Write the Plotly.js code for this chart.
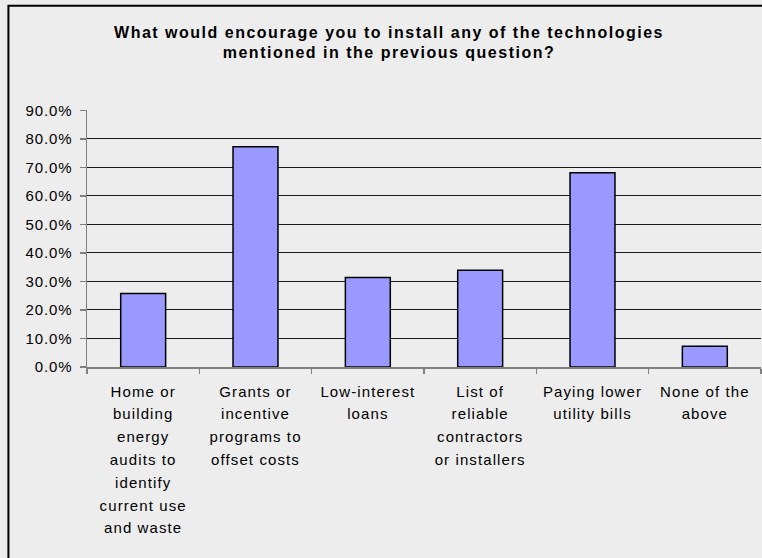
<!DOCTYPE html>
<html>
<head>
<meta charset="utf-8">
<script src="https://cdn.plot.ly/plotly-3.0.1.min.js"></script>
<style>
html,body{margin:0;padding:0;background:#ededed;}
#chart{width:762px;height:558px;}
#chart text.gtitle{letter-spacing:1.5px;}
#chart g.xtick text{letter-spacing:1.1px;}
#chart g.ytick text{letter-spacing:0.9px;}
</style>
</head>
<body>
<div id="chart"></div>
<script>
const chartTitle = "What would encourage you to install any of the technologies<br>mentioned in the previous question?";
const categories = [
  "Home or<br>building<br>energy<br>audits to<br>identify<br>current use<br>and waste",
  "Grants or<br>incentive<br>programs to<br>offset costs",
  "Low-interest<br>loans",
  "List of<br>reliable<br>contractors<br>or installers",
  "Paying lower<br>utility bills",
  "None of the<br>above"
];
const percentValues = [25.8, 77.3, 31.4, 33.9, 68.1, 7.3];
const yTickValues = [0, 10, 20, 30, 40, 50, 60, 70, 80, 90];
const yTickLabels = ["0.0%", "10.0%", "20.0%", "30.0%", "40.0%", "50.0%", "60.0%", "70.0%", "80.0%", "90.0%"];

const fontFamily = "Liberation Sans, Arial, sans-serif";

const trace = {
  type: "bar",
  x: categories,
  y: percentValues,
  marker: { color: "#9999ff", line: { color: "#000000", width: 1.5 } },
  hoverinfo: "skip"
};

const layout = {
  width: 762,
  height: 558,
  paper_bgcolor: "#ededed",
  plot_bgcolor: "#ededed",
  margin: { l: 87, r: 1, t: 110, b: 191, pad: 0 },
  bargap: 0.6,
  showlegend: false,
  title: {
    text: chartTitle,
    font: { family: fontFamily, size: 16, color: "#000000", weight: "bold" },
    x: 389 / 762, xanchor: "center",
    y: 1 - 37.5 / 558, yanchor: "top", yref: "container"
  },
  xaxis: {
    type: "category",
    showgrid: false,
    showline: true, linecolor: "#808080", linewidth: 1.5,
    ticks: "outside", tickson: "boundaries", ticklen: 5, tickcolor: "#808080", tickwidth: 1.5,
    ticklabelstandoff: 10,
    tickfont: { family: fontFamily, size: 15, color: "#000000" },
    tickangle: 0,
    fixedrange: true
  },
  yaxis: {
    range: [0, 90.15],
    tickvals: yTickValues,
    ticktext: yTickLabels,
    showgrid: true, gridcolor: "#1a1a1a", gridwidth: 1,
    zeroline: false,
    showline: true, linecolor: "#808080", linewidth: 1.5,
    ticks: "outside", ticklen: 6, tickcolor: "#808080", tickwidth: 1.5,
    ticklabelstandoff: 4,
    tickfont: { family: fontFamily, size: 15, color: "#000000" },
    fixedrange: true
  },
  shapes: [{
    type: "rect", xref: "paper", yref: "paper",
    x0: -0.1166, x1: 1.05, y0: -1.0, y1: 1.406,
    line: { color: "#000000", width: 2 },
    fillcolor: "rgba(0,0,0,0)", layer: "below"
  }]
};

Plotly.newPlot("chart", [trace], layout, { displayModeBar: false, staticPlot: true }).then(function () {
  // widen the line spacing of the multi-line category labels (reference uses ~1.52em)
  const factor = 1.52 / 1.3;
  document.querySelectorAll("#chart g.xtick text tspan.line").forEach(function (t) {
    const dy = t.getAttribute("dy");
    if (dy && /em$/.test(dy)) {
      const v = parseFloat(dy);
      if (!isNaN(v)) t.setAttribute("dy", (v * factor).toFixed(3) + "em");
    }
  });
});
</script>
</body>
</html>
